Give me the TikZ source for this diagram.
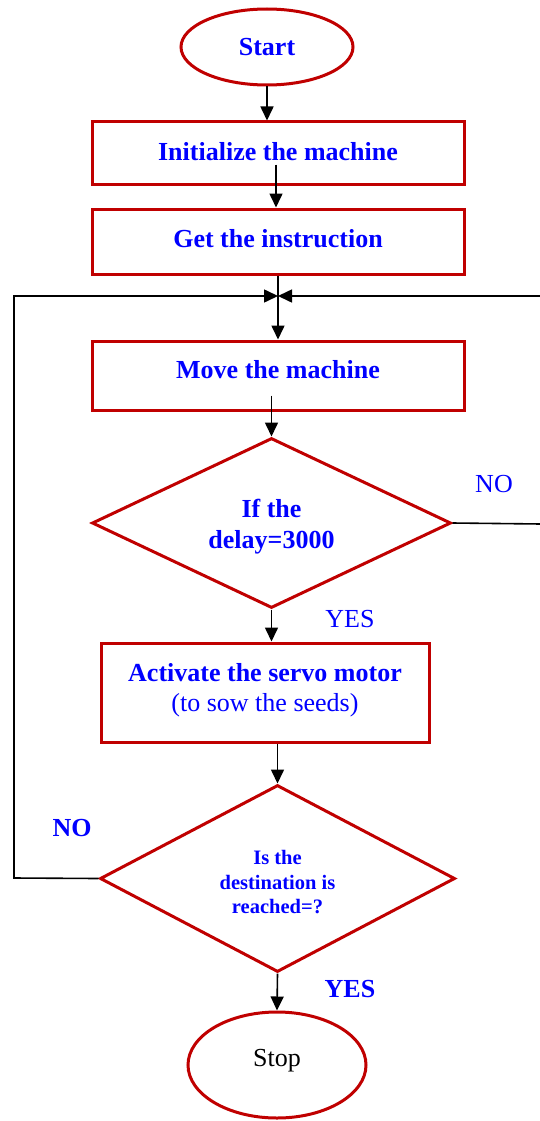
\documentclass[tikz,border=0pt]{standalone}
\usepackage{fontspec}
\setmainfont{Liberation Serif}
\usetikzlibrary{shapes.geometric,arrows.meta,calc}
\definecolor{boxred}{RGB}{192,0,0}
\definecolor{txtblue}{RGB}{0,0,255}
\tikzset{
  boxstyle/.style={draw=boxred, line width=3pt, rectangle, inner sep=0pt, align=center,
    text=txtblue, font=\fontsize{26}{30}\bfseries\selectfont},
  ovalstyle/.style={draw=boxred, line width=3pt, ellipse, inner sep=0pt, align=center},
  decstyle/.style={draw=boxred, line width=3pt, diamond, aspect=2, inner sep=0pt, align=center,
    text=txtblue},
  arr/.style={draw=black, line width=1.6pt, -{Triangle[length=14pt,width=13pt]}},
  plain/.style={draw=black, line width=1.6pt},
  lblreg/.style={text=txtblue, font=\fontsize{26}{30}\selectfont, inner sep=0pt},
  lblbold/.style={text=txtblue, font=\fontsize{26}{30}\bfseries\selectfont, inner sep=0pt}
}
\begin{document}
\begin{tikzpicture}[x=1pt,y=-1pt]
\useasboundingbox (0,0) rectangle (540,1121);
% nodes
\node[ovalstyle, minimum width=172pt, minimum height=76pt, text=txtblue,
      font=\fontsize{26}{30}\bfseries\selectfont] (start) at (267,47) {Start};
\node[boxstyle, minimum width=372pt, minimum height=62pt, text depth=4pt] (init) at (278,153) {Initialize the machine};
\node[boxstyle, minimum width=372pt, minimum height=65pt, text depth=6pt] (get) at (278,241.5) {Get the instruction};
\node[boxstyle, minimum width=372pt, minimum height=69pt, text depth=12pt] (move) at (278,375.5) {Move the machine};
\node[decstyle, minimum width=359pt, minimum height=170pt, text height=57pt,
      font=\fontsize{26}{31}\bfseries\selectfont] (d1) at (271.5,523) {If the\\delay=3000};
\node[boxstyle, minimum width=328pt, minimum height=99pt, text depth=11pt] (act) at (265,692.5)
      {Activate the servo motor\\{\mdseries (to sow the seeds)}};
\node[decstyle, minimum width=355pt, minimum height=187pt, text height=71pt,
      font=\fontsize{20.5}{24.5}\bfseries\selectfont] (d2) at (277.5,878.5)
      {Is the\\destination is\\reached=?};
\node[ovalstyle, minimum width=178pt, minimum height=106pt, text=black, text depth=15pt,
      font=\fontsize{26}{30}\selectfont] (stop) at (277,1065) {Stop};
% helper coordinates
\coordinate (J) at (278,296);
\coordinate (LT) at (14,296);
\coordinate (LB) at (14,878);
\coordinate (RT) at (541,296);
\coordinate (RB) at (541,524);
% labels
\node[lblreg] (no1) at (494,484) {NO};
\node[lblreg] (yes1) at (350,619) {YES};
\node[lblbold] (no2) at (72,828) {NO};
\node[lblbold] (yes2) at (350,989) {YES};
% connectors
\draw[arr] ([yshift=21pt]init.south -| 276,0) -- (get.north -| 276,0);
\draw[arr] (start.south) -- (start.south |- init.north);
\draw[arr] (get.south) -- (move.north);
\draw[arr] ([yshift=16pt]move.south -| d1.north) -- (d1.north);
\draw[arr] (d1.south) -- (d1.south |- act.north);
\draw[arr] (act.south -| d2.north) -- (d2.north);
\draw[arr] (d2.south) -- (stop.north);
\draw[arr] (d2.west) -- (LB) -- (LT) -- (J);
\draw[arr] (d1.east) -- (RB) -- (RT) -- (J);
\end{tikzpicture}
\end{document}
